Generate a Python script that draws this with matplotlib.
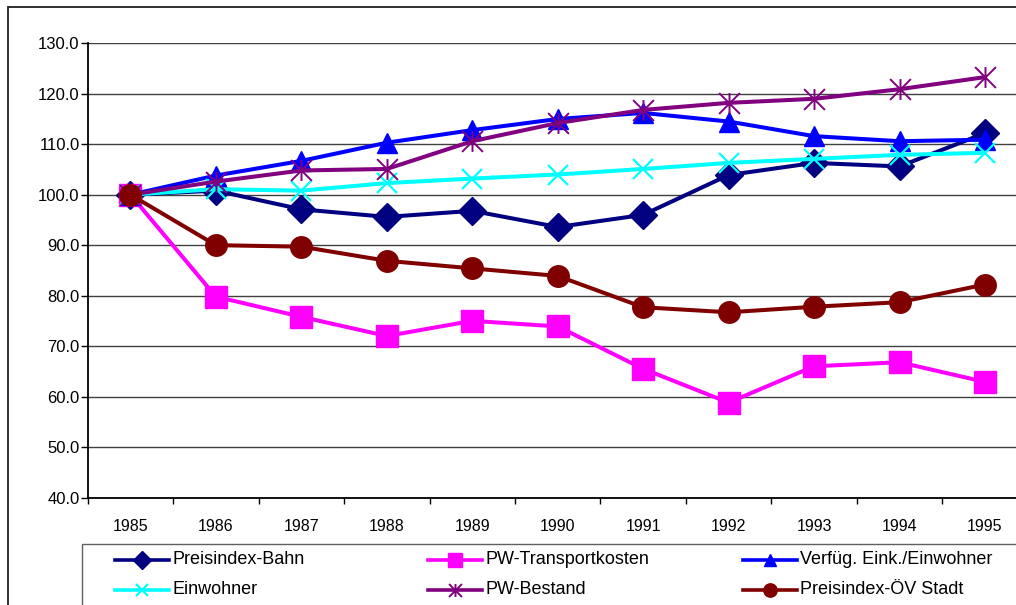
import numpy as np
import matplotlib
matplotlib.use("Agg")
import matplotlib.pyplot as plt
from matplotlib.lines import Line2D
from matplotlib.patches import Rectangle
from matplotlib.path import Path
from matplotlib.ticker import FuncFormatter

plt.rcParams['font.family'] = ['Liberation Sans', 'DejaVu Sans']

# Index series, 1985 = 100
years = ['1985', '1986', '1987', '1988', '1989', '1990',
         '1991', '1992', '1993', '1994', '1995']
preisindex_bahn = [100.0, 100.8, 97.1, 95.6, 96.8, 93.6, 96.0, 103.9, 106.3, 105.6, 112.2]
pw_transportkosten = [100.0, 79.8, 75.8, 72.0, 75.0, 73.9, 65.5, 58.8, 66.0, 66.8, 62.9]
verfueg_eink = [100.0, 103.8, 106.7, 110.3, 112.8, 115.0, 116.2, 114.5, 111.6, 110.6, 110.9]
einwohner = [100.0, 101.1, 100.8, 102.3, 103.2, 104.0, 105.1, 106.3, 107.1, 107.9, 108.3]
pw_bestand = [100.0, 102.6, 104.8, 105.1, 110.6, 114.2, 116.8, 118.2, 119.0, 120.9, 123.3]
preisindex_oev = [100.0, 90.0, 89.7, 86.9, 85.4, 83.9, 77.7, 76.7, 77.8, 78.7, 82.2]

labels = ['Preisindex-Bahn', 'PW-Transportkosten', 'Verfüg. Eink./Einwohner',
          'Einwohner', 'PW-Bestand', 'Preisindex-ÖV Stadt']
y_ticks = [40, 50, 60, 70, 80, 90, 100, 110, 120, 130]

# asterisk marker: vertical stroke plus a cross
star_path = Path([(0, -1), (0, 1), (-1, -1), (1, 1), (-1, 1), (1, -1)],
                 [Path.MOVETO, Path.LINETO] * 3)

styles = [
    dict(color='#000080', marker='D', ms=14.0),
    dict(color='#FF00FF', marker='s', ms=15.5),
    dict(color='#0000FF', marker='^', ms=15.0),
    dict(color='#00FFFF', marker='x', ms=14.5, mew=1.6),
    dict(color='#800080', marker=star_path, ms=15.0, mew=1.4, mfc='none'),
    dict(color='#800000', marker='o', ms=15.5),
]
series = [preisindex_bahn, pw_transportkosten, verfueg_eink,
          einwohner, pw_bestand, preisindex_oev]

W, H = 1016, 605
fig = plt.figure(figsize=(W / 100, H / 100), dpi=100)
fig.patch.set_facecolor('white')

ax_l, ax_r, ax_t, ax_b = 87.7, 1027.7, 43.3, 497.5
ax = fig.add_axes([ax_l / W, 1 - ax_b / H, (ax_r - ax_l) / W, (ax_b - ax_t) / H])

x = np.arange(len(years))
for vals, st, lab in zip(series, styles, labels):
    kw = dict(st)
    c = kw.pop('color')
    kw.setdefault('mew', 1.0)
    kw.setdefault('mfc', c)
    ax.plot(x, vals, color=c, lw=2.9, mec=c, label=lab,
            solid_joinstyle='round', clip_on=False, **kw)

ax.set_xlim(-0.5, len(years) - 0.5)
ax.set_ylim(40, 130)
ax.set_yticks(y_ticks)
ax.yaxis.set_major_formatter(FuncFormatter(lambda v, p: f'{v:.1f}'))
ax.set_xticks(x, years)
ax.set_xticks(np.arange(-0.5, len(years), 1), minor=True)
ax.tick_params(axis='x', which='major', length=0, pad=15.5, labelsize=11.5)
ax.tick_params(axis='x', which='minor', length=4.5, width=1.0, color='black')
ax.tick_params(axis='y', length=4.8, width=1.0, pad=1.0, labelsize=12)
ax.yaxis.grid(True, color='#404040', lw=1.0)
ax.set_axisbelow(True)
for s in ['top', 'right']:
    ax.spines[s].set_visible(False)
for s in ['left', 'bottom']:
    ax.spines[s].set_color('black')
    ax.spines[s].set_linewidth(1.3)

# chart frame
fig.add_artist(Rectangle((7.5 / W, -0.2), 2.0, (H - 7.5) / H + 0.2,
                         transform=fig.transFigure, fill=False,
                         edgecolor='#202020', lw=1.3))
# legend frame
fig.add_artist(Rectangle((82 / W, -0.2), 2.0, (H - 544) / H + 0.2,
                         transform=fig.transFigure, fill=False,
                         edgecolor='#606060', lw=1.0))

col_x = [115, 428.3, 742.7]
row_y = [560.0, 590.0]
handle_len = 54
for i, (st, lab) in enumerate(zip(styles, labels)):
    col, row = i % 3, i // 3
    x0 = col_x[col]
    yy = 1 - row_y[row] / H
    kw = dict(st)
    c = kw.pop('color')
    kw['ms'] = kw['ms'] * 0.62
    kw.setdefault('mew', 1.0)
    kw.setdefault('mfc', c)
    fig.add_artist(Line2D([x0 / W, (x0 + handle_len) / W], [yy, yy],
                          transform=fig.transFigure, color=c, lw=2.6))
    fig.add_artist(Line2D([(x0 + handle_len / 2) / W], [yy],
                          transform=fig.transFigure, color=c, mec=c,
                          lw=0, **kw))
    fig.text((x0 + handle_len + 3.5) / W, yy, lab, fontsize=13,
             va='center', ha='left', color='black')

fig.savefig('out.png', dpi=100, facecolor='white')
